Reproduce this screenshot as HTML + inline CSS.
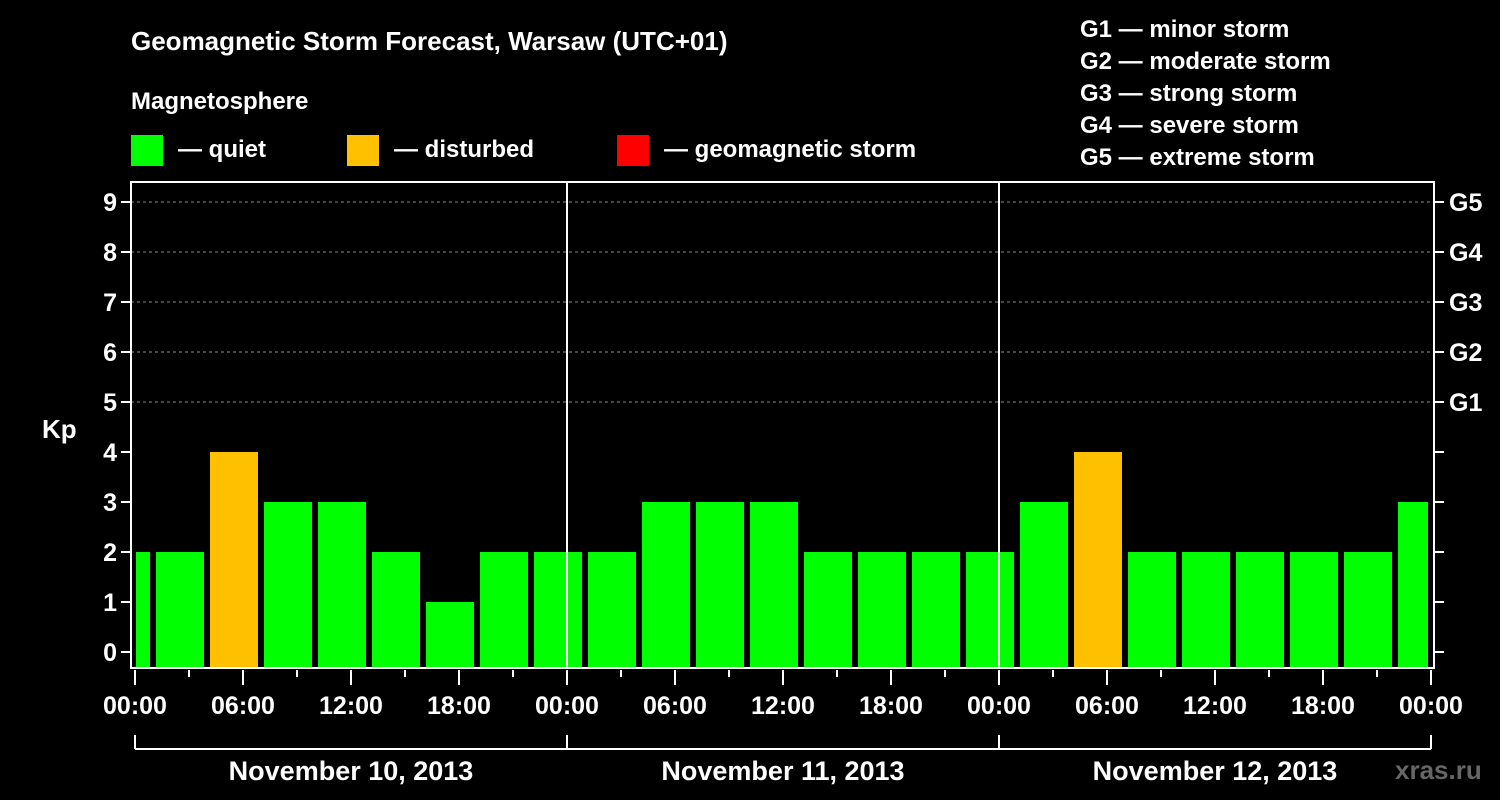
<!DOCTYPE html>
<html><head><meta charset="utf-8"><style>
body{margin:0;background:#000;}
svg{display:block;font-family:"Liberation Sans",sans-serif;font-weight:bold;}
</style></head><body>
<svg id="c" width="1500" height="800" viewBox="0 0 1500 800">
<rect width="1500" height="800" fill="#000"/>
<text x="131" y="50" fill="#fff" font-size="26">Geomagnetic Storm Forecast, Warsaw (UTC+01)</text>
<text x="131" y="109" fill="#fff" font-size="24">Magnetosphere</text>
<g><rect x="131" y="135" width="32" height="31" fill="#00ff00"/><text x="178" y="157" fill="#fff" font-size="24">— quiet</text></g>
<g><rect x="347" y="135" width="32" height="31" fill="#ffc000"/><text x="394" y="157" fill="#fff" font-size="24">— disturbed</text></g>
<g><rect x="617" y="135" width="32" height="31" fill="#ff0000"/><text x="664" y="157" fill="#fff" font-size="24">— geomagnetic storm</text></g>
<g fill="#fff" font-size="24">
<text x="1080" y="37">G1 — minor storm</text>
<text x="1080" y="69">G2 — moderate storm</text>
<text x="1080" y="101">G3 — strong storm</text>
<text x="1080" y="133">G4 — severe storm</text>
<text x="1080" y="165">G5 — extreme storm</text>
</g>
<text x="42" y="438" fill="#fff" font-size="26">Kp</text>
<text x="1395" y="779" fill="#666" font-size="26">xras.ru</text>
<g id="grid"></g><g id="bars"></g><g id="axes"></g>
</svg>
<script>
const kpValues=[2,2,4,3,3,2,1,2,2,2,3,3,3,2,2,2,2,3,4,2,2,2,2,2,3];
const slotStartHour=-2; // first slot starts 22:00 previous day (local)
const dayLabels=["November 10, 2013","November 11, 2013","November 12, 2013"];
const timeLabels=["00:00","06:00","12:00","18:00"];
const gLabels=["G1","G2","G3","G4","G5"];
const X0=135,PXH=18,Y0=652,PXK=50,L=131,R=1434,T=182,B=668;
const xs=h=>X0+h*PXH, ys=k=>Y0-k*PXK;
const ns="http://www.w3.org/2000/svg";
function mk(t,a,p){const e=document.createElementNS(ns,t);for(const k in a)e.setAttribute(k,a[k]);p.appendChild(e);return e;}
const grid=document.getElementById('grid'),bars=document.getElementById('bars'),axes=document.getElementById('axes');
for(let k=5;k<=9;k++){const l=mk('line',{x1:L,x2:R,y1:ys(k),y2:ys(k),stroke:'#888','stroke-dasharray':'3,3'},grid);
}
kpValues.forEach((v,i)=>{let a=xs(slotStartHour+i*3)+3,b=xs(slotStartHour+i*3+3)-3;
a=Math.max(a,X0+1);b=Math.min(b,xs(72)-3);if(b<=a)return;
const r=mk('rect',{x:a,y:ys(v),width:b-a,height:B-ys(v),fill:v>=5?'#ff0000':(v>=4?'#ffc000':'#00ff00')},bars);
});
for(let d=1;d<3;d++){const l=mk('line',{x1:xs(d*24),x2:xs(d*24),y1:T,y2:B,stroke:'#fff','stroke-width':2},axes);
}
const fr=mk('rect',{x:L,y:T,width:R-L,height:B-T,fill:'none',stroke:'#fff','stroke-width':2},axes);

for(let k=0;k<=9;k++){mk('line',{x1:L-10,x2:L,y1:ys(k),y2:ys(k),stroke:'#fff','stroke-width':2},axes);
mk('line',{x1:R,x2:R+10,y1:ys(k),y2:ys(k),stroke:'#fff','stroke-width':2},axes);
const t=mk('text',{x:L-14,y:ys(k)+9,fill:'#fff','font-size':25,'text-anchor':'end'},axes);t.textContent=k;
}
gLabels.forEach((g,i)=>{const t=mk('text',{x:R+15,y:ys(5+i)+9,fill:'#fff','font-size':25},axes);t.textContent=g;
});
for(let h=0;h<=72;h+=3){const maj=h%6==0;mk('line',{x1:xs(h),x2:xs(h),y1:B+2,y2:B+(maj?17:9),stroke:'#fff','stroke-width':2},axes);
if(maj){const t=mk('text',{x:xs(h),y:B+46,fill:'#fff','font-size':25,'text-anchor':'middle'},axes);t.textContent=timeLabels[(h/6)%4];
}}
mk('line',{x1:xs(0),x2:xs(72),y1:749,y2:749,stroke:'#fff','stroke-width':2},axes);
for(let d=0;d<=3;d++)mk('line',{x1:xs(d*24),x2:xs(d*24),y1:735,y2:749,stroke:'#fff','stroke-width':2},axes);
dayLabels.forEach((s,d)=>{const t=mk('text',{x:xs(d*24+12),y:780,fill:'#fff','font-size':27,'text-anchor':'middle'},axes);t.textContent=s;
});
</script>
</body></html>
